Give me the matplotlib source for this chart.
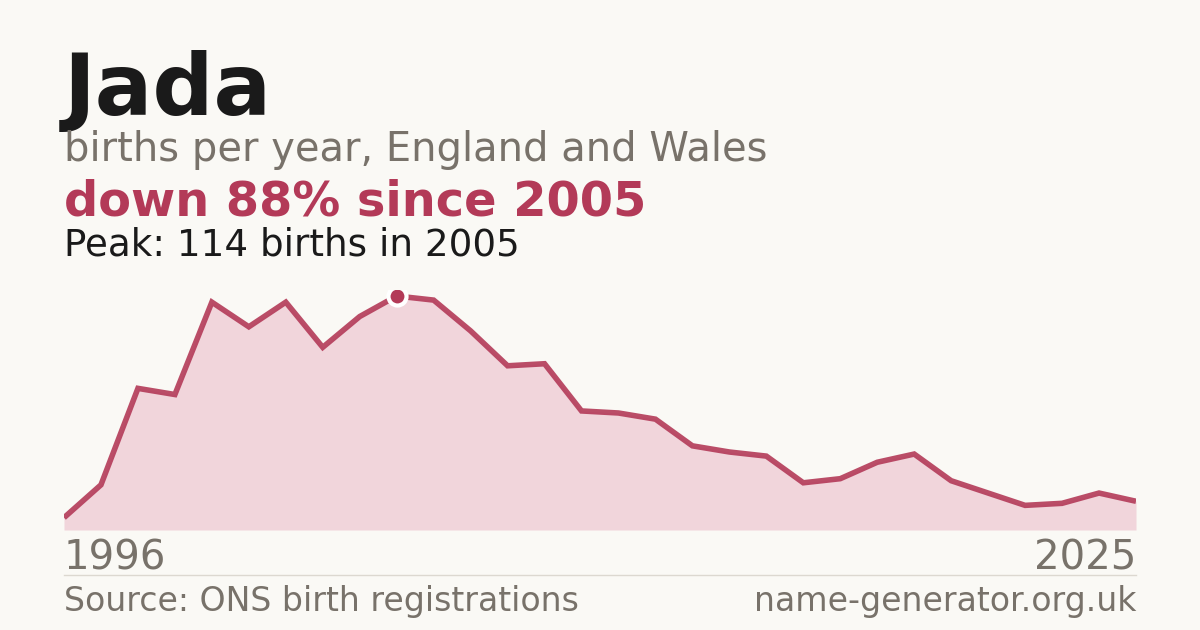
import matplotlib
matplotlib.use("Agg")
import matplotlib.pyplot as plt

years = list(range(1996, 2026))
births = [6, 22, 69, 66, 111, 99, 111, 89, 104, 114,
          112, 97, 80, 81, 58, 57, 54, 41, 38, 36,
          23, 25, 33, 37, 24, 18, 12, 13, 18, 14]
peak_year = 2005
peak_value = 114

BG = "#faf9f5"
RED = "#b33a58"
FILL = "#f1d5db"
GREY = "#78726a"
DARK = "#1a1a1a"

W, H = 1200, 630
fig = plt.figure(figsize=(12, 6.3), dpi=100, facecolor=BG)

def fx(px):
    return px / W

def fy(py):
    return 1 - py / H

ax_left, ax_right, ax_bottom, ax_top = 64, 1136, 530, 290
ax = fig.add_axes([fx(ax_left), fy(ax_bottom), (ax_right - ax_left) / W, (ax_bottom - ax_top) / H])
ax.set_facecolor("none")
ax.fill_between(years, births, 0, color=FILL, lw=0)
ax.plot(years, births, color=RED, lw=4.0, solid_joinstyle="miter", solid_capstyle="butt", alpha=0.9)
ax.plot([peak_year], [peak_value], "o", ms=13, mfc=RED, mec="white", mew=3, zorder=5)
ax.set_xlim(years[0], years[-1])
ax.set_ylim(0, 240 / (234 / peak_value))
ax.axis("off")

fig.text(fx(64), fy(115), "Jada", fontsize=61.5, fontweight="bold", color=DARK, va="baseline")
fig.text(fx(64), fy(161), "births per year, England and Wales", fontsize=28.8, color=GREY, va="baseline")
fig.text(fx(64), fy(215), "down 88% since 2005", fontsize=34.5, fontweight="bold", color=RED, va="baseline")
fig.text(fx(64), fy(255), "Peak: 114 births in 2005", fontsize=26.8, color=DARK, va="baseline")

fig.text(fx(64), fy(570), str(years[0]), fontsize=29, color=GREY, va="baseline", ha="left")
fig.text(fx(1136), fy(570), str(years[-1]), fontsize=29, color=GREY, va="baseline", ha="right")

fig.add_artist(plt.Line2D([fx(64), fx(1136)], [fy(574.5), fy(574.5)], color="#dcd8d0", lw=1))

fig.text(fx(64), fy(611), "Source: ONS birth registrations", fontsize=23.9, color=GREY, va="baseline")
fig.text(fx(1136), fy(611), "name-generator.org.uk", fontsize=23.9, color=GREY, va="baseline", ha="right")

fig.savefig("out.png", dpi=100, facecolor=BG)
